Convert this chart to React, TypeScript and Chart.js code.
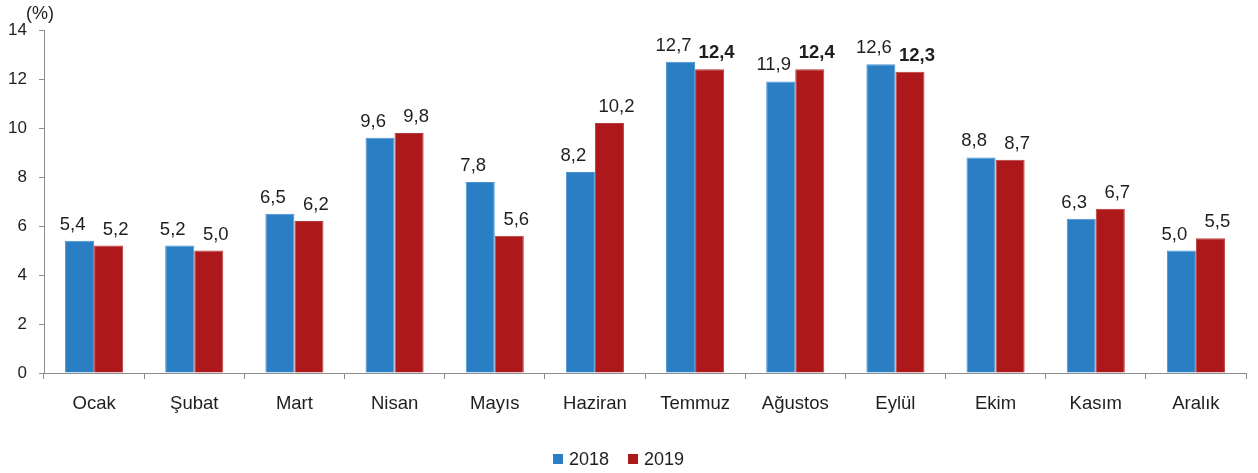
import React, { useEffect, useRef } from "react";
import { Chart, registerables } from "chart.js";

Chart.register(...registerables);

const categories = ["Ocak", "Şubat", "Mart", "Nisan", "Mayıs", "Haziran", "Temmuz", "Ağustos", "Eylül", "Ekim", "Kasım", "Aralık"];
const values2018 = [5.4, 5.2, 6.5, 9.6, 7.8, 8.2, 12.7, 11.9, 12.6, 8.8, 6.3, 5.0];
const values2019 = [5.2, 5.0, 6.2, 9.8, 5.6, 10.2, 12.4, 12.4, 12.3, 8.7, 6.7, 5.5];
const bold2019 = [false, false, false, false, false, false, true, true, true, false, false, false];
const seriesNames = ["2018", "2019"];
const yTicks = [0, 2, 4, 6, 8, 10, 12, 14];
const unitLabel = "(%)";

const BLUE = "#2a7ec3";
const RED = "#ad181b";
const TEXT = "#1e1e1e";
const FONT = "'Liberation Sans', Arial, sans-serif";
const LABEL_DX = [-7, 7];

const fmt = (v: number) => v.toFixed(1).replace(".", ",");

const labelPlugin = {
  id: "labelsAndLegend",
  afterDraw(chart: any) {
    const ctx = chart.ctx;
    ctx.save();
    ctx.fillStyle = TEXT;
    ctx.textAlign = "center";
    ctx.textBaseline = "alphabetic";
    chart.data.datasets.forEach((ds: any, di: number) => {
      const meta = chart.getDatasetMeta(di);
      meta.data.forEach((bar: any, i: number) => {
        const isBold = di === 1 && bold2019[i];
        ctx.font = `${isBold ? "bold " : ""}18.5px ${FONT}`;
        ctx.fillText(fmt(ds.data[i]), bar.x + LABEL_DX[di], bar.y - 11);
      });
    });
    // unit label
    ctx.font = `18px ${FONT}`;
    ctx.textAlign = "left";
    ctx.fillText(unitLabel, 26, 19);
    // legend
    ctx.font = `18px ${FONT}`;
    const colors = [BLUE, RED];
    const box = 10;
    const gapBoxText = 6;
    const gapItems = 19;
    let x = 553;
    const baseline = 465;
    seriesNames.forEach((n, i) => {
      const w = ctx.measureText(n).width;
      ctx.fillStyle = colors[i];
      ctx.fillRect(x, baseline - 11, box, box);
      ctx.fillStyle = TEXT;
      ctx.fillText(n, x + box + gapBoxText, baseline);
      x += box + gapBoxText + w + gapItems;
    });
    ctx.restore();
  },
};

export default function App() {
  const ref = useRef<HTMLCanvasElement>(null);
  useEffect(() => {
    if (!ref.current) return;
    const chart = new Chart(ref.current, {
      type: "bar",
      data: {
        labels: categories,
        datasets: [
          { label: seriesNames[0], data: values2018, backgroundColor: BLUE, borderColor: "#4a92cf", borderWidth: 1, categoryPercentage: 0.58, barPercentage: 1.0 },
          { label: seriesNames[1], data: values2019, backgroundColor: RED, borderColor: "#b83a3c", borderWidth: 1, categoryPercentage: 0.58, barPercentage: 1.0 },
        ],
      },
      options: {
        responsive: false,
        animation: false,
        layout: { padding: { top: 30, right: 12, left: 0, bottom: 0 } },
        plugins: { legend: { display: false }, tooltip: { enabled: false } },
        scales: {
          x: {
            grid: { drawOnChartArea: false, drawTicks: true, tickLength: 6, color: "#8c8c8c", offset: true },
            border: { display: true, color: "#8c8c8c", width: 1 },
            ticks: { color: TEXT, font: { family: FONT, size: 18.5 }, padding: 14, maxRotation: 0, autoSkip: false },
            afterFit: (s: any) => { s.height = 100; },
          },
          y: {
            min: 0,
            max: 14,
            afterBuildTicks: (s: any) => { s.ticks = yTicks.map((v) => ({ value: v })); },
            grid: { drawOnChartArea: false, drawTicks: true, tickLength: 5, color: "#8c8c8c" },
            border: { display: true, color: "#8c8c8c", width: 1 },
            ticks: { color: TEXT, font: { family: FONT, size: 17 }, padding: 12 },
            afterFit: (s: any) => { s.width = 44; },
          },
        },
      },
      plugins: [labelPlugin],
    });
    return () => chart.destroy();
  }, []);
  return (
    <div style={{ position: "absolute", left: 0, top: 0, width: 1258, height: 473, background: "#fff" }}>
      <canvas ref={ref} width={1258} height={473} style={{ display: "block" }} />
    </div>
  );
}
